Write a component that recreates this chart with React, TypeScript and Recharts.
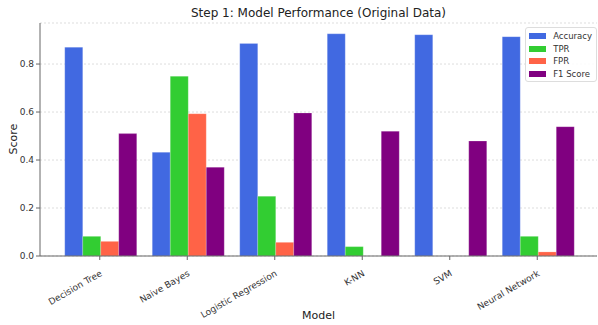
import { BarChart, Bar, XAxis, YAxis, CartesianGrid } from 'recharts';

const models = ['Decision Tree', 'Naive Bayes', 'Logistic Regression', 'K-NN', 'SVM', 'Neural Network'];
const accuracy = [0.87, 0.432, 0.886, 0.926, 0.922, 0.914];
const tpr = [0.082, 0.749, 0.249, 0.039, 0, 0.082];
const fpr = [0.061, 0.593, 0.057, 0, 0, 0.017];
const f1 = [0.51, 0.37, 0.596, 0.52, 0.479, 0.539];
const yTicks = [0, 0.2, 0.4, 0.6, 0.8];

const series = [
  { key: 'accuracy', name: 'Accuracy', color: '#4169E1' },
  { key: 'tpr', name: 'TPR', color: '#32CD32' },
  { key: 'fpr', name: 'FPR', color: '#FF6347' },
  { key: 'f1', name: 'F1 Score', color: '#800080' },
];

const data = models.map((m, i) => ({
  model: m,
  accuracy: accuracy[i],
  tpr: tpr[i],
  fpr: fpr[i],
  f1: f1[i],
}));

const font = '"DejaVu Sans", sans-serif';

function RotatedTick({ x, y, payload }: any) {
  return (
    <g transform={`translate(${x},${y + 8})`}>
      <text
        transform="rotate(-30)"
        textAnchor="end"
        dy={6}
        fontSize={9}
        fill="#333"
        fontFamily={font}
      >
        {payload.value}
      </text>
    </g>
  );
}

// legend drawn outside the chart so it doesn't shrink the plot area
function LegendBox() {
  return (
    <div
      style={{
        position: 'absolute',
        right: 1,
        top: 27,
        border: '1px solid #ddd',
        borderRadius: 3,
        background: 'rgba(255,255,255,0.85)',
        padding: '2px 4px 1px 3px',
        fontFamily: font,
        fontSize: 8.5,
        color: '#333',
      }}
    >
      {series.map((s) => (
        <div key={s.key} style={{ display: 'flex', alignItems: 'center', height: 12.5 }}>
          <span style={{ width: 17, height: 6, background: s.color, marginRight: 7, display: 'inline-block' }} />
          {s.name}
        </div>
      ))}
    </div>
  );
}

export default function App() {
  return (
    <div style={{ position: 'absolute', left: 0, top: 0, width: 598, height: 325, background: '#fff' }}>
      <div
        style={{
          position: 'absolute',
          left: 40,
          width: 557,
          top: 6,
          textAlign: 'center',
          fontFamily: font,
          fontSize: 12,
          color: '#222',
        }}
      >
        Step 1: Model Performance (Original Data)
      </div>
      <div
        style={{
          position: 'absolute',
          left: 40,
          width: 557,
          top: 309,
          textAlign: 'center',
          fontFamily: font,
          fontSize: 11,
          color: '#222',
        }}
      >
        Model
      </div>
      <div
        style={{
          position: 'absolute',
          left: 5,
          top: 140,
          transform: 'rotate(-90deg)',
          transformOrigin: 'center',
          fontFamily: font,
          fontSize: 11,
          color: '#222',
          width: 16,
          textAlign: 'center',
        }}
      >
        <span style={{ display: 'inline-block', whiteSpace: 'nowrap' }}>Score</span>
      </div>
      <BarChart
        width={598}
        height={325}
        data={data}
        margin={{ top: 23, right: 1, left: 0, bottom: 0 }}
        barCategoryGap="10%"
        barGap={0}
      >
        <CartesianGrid vertical={false} stroke="#ddd" strokeDasharray="2 2" />
        <XAxis
          dataKey="model"
          height={69}
          padding={{ left: 16, right: 16 }}
          tick={<RotatedTick />}
          tickSize={4}
          axisLine={{ stroke: '#666' }}
          tickLine={{ stroke: '#666' }}
          interval={0}
        />
        <XAxis
          xAxisId="top"
          orientation="top"
          dataKey="model"
          height={0}
          tick={false}
          tickLine={false}
          axisLine={{ stroke: '#888' }}
        />
        <YAxis
          width={40}
          domain={[0, 0.971]}
          ticks={yTicks}
          tickFormatter={(v: number) => v.toFixed(1)}
          tickSize={4}
          axisLine={{ stroke: '#666' }}
          tickLine={{ stroke: '#666' }}
          tick={{ fontSize: 9, fill: '#333', fontFamily: font }}
        />
        {series.map((s) => (
          <Bar
            key={s.key}
            dataKey={s.key}
            name={s.name}
            fill={s.color}
            stroke="#fff"
            strokeOpacity={0.4}
            strokeWidth={0.5}
            isAnimationActive={false}
          />
        ))}
      </BarChart>
      <LegendBox />
    </div>
  );
}
